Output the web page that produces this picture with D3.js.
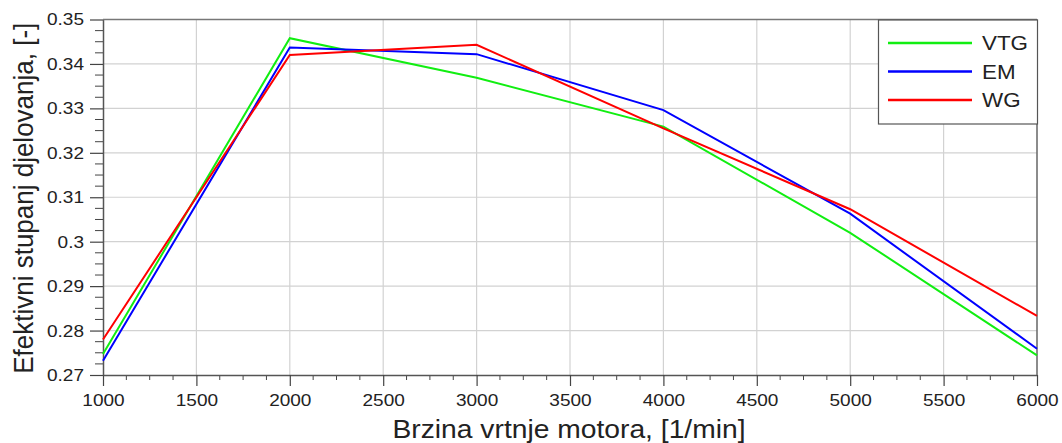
<!DOCTYPE html>
<html><head><meta charset="utf-8">
<script src="https://cdn.jsdelivr.net/npm/d3@7"></script>
<style>body{margin:0;background:#fff}svg{display:block}text{font-family:"Liberation Sans",Arial,sans-serif;fill:#222}</style>
</head><body><svg id="c" width="1062" height="443"></svg>
<script>
const rpm = [1000, 2000, 3000, 4000, 5000, 6000];
const vtg = [0.2747, 0.3458, 0.3369, 0.3259, 0.3020, 0.2744];
const em  = [0.2732, 0.3437, 0.3422, 0.3296, 0.3063, 0.2759];
const wg  = [0.2780, 0.3420, 0.3443, 0.3255, 0.3073, 0.2833];
const seriesNames = ["VTG", "EM", "WG"];
const seriesColors = ["#11ee11", "#0000ff", "#ff0000"];
const xTicks = [1000,1500,2000,2500,3000,3500,4000,4500,5000,5500,6000];
const yTicks = [0.27,0.28,0.29,0.30,0.31,0.32,0.33,0.34,0.35];
const yTickLabels = ["0.27","0.28","0.29","0.3","0.31","0.32","0.33","0.34","0.35"];
const xTitle = "Brzina vrtnje motora, [1/min]";
const yTitle = "Efektivni stupanj djelovanja, [-]";

const svg = d3.select("#c");
const L = 103, R = 1037, T = 19.5, B = 375;
const SX = 1.12;
const x = d3.scaleLinear().domain([1000, 6000]).range([L, R]);
const y = d3.scaleLinear().domain([0.27, 0.35]).range([B, T]);

// grid
const g = svg.append("g");
g.selectAll(".vx").data(xTicks.slice(1, -1)).join("line")
  .attr("x1", d => x(d)).attr("x2", d => x(d)).attr("y1", T).attr("y2", B)
  .attr("stroke", "#d2d2d2").attr("stroke-width", 1.2);
g.selectAll(".hy").data(yTicks.slice(1, -1)).join("line")
  .attr("x1", L).attr("x2", R).attr("y1", d => y(d)).attr("y2", d => y(d))
  .attr("stroke", "#d2d2d2").attr("stroke-width", 1.2);

// minor ticks
const xMinor = d3.range(1000, 6001, 125).filter(v => v % 500 !== 0);
const yMinor = d3.range(0, 33).map(i => 0.27 + i * 0.0025).filter((v, i) => i % 4 !== 0);
svg.append("g").selectAll("line").data(xMinor).join("line")
  .attr("x1", d => x(d)).attr("x2", d => x(d)).attr("y1", B).attr("y2", B + 5)
  .attr("stroke", "#444").attr("stroke-width", 1);
svg.append("g").selectAll("line").data(yMinor).join("line")
  .attr("x1", L - 8).attr("x2", L).attr("y1", d => y(d)).attr("y2", d => y(d))
  .attr("stroke", "#444").attr("stroke-width", 1);

// axes
const xAxis = d3.axisBottom(x).tickValues(xTicks).tickFormat(d3.format("d")).tickSizeInner(11).tickSizeOuter(0).tickPadding(8);
const ya = d3.axisLeft(y).tickValues(yTicks).tickFormat((d, i) => yTickLabels[i]).tickSizeInner(13).tickSizeOuter(0).tickPadding(6);
const gx = svg.append("g").attr("transform", `translate(0,${B})`).call(xAxis);
const gy = svg.append("g").attr("transform", `translate(${L},0)`).call(ya);
[gx, gy].forEach(a => {
  a.selectAll("path").attr("stroke", "#555").attr("stroke-width", 1.5);
  a.selectAll(".tick line").attr("stroke", "#444").attr("stroke-width", 1.2);
  a.selectAll("text").attr("font-size", 17).attr("fill", "#222").attr("font-family", "Liberation Sans, Arial, sans-serif");
});
gx.selectAll("text").attr("transform", `scale(${SX},1)`);
gy.selectAll("text").attr("x", -19 / SX).attr("transform", `scale(${SX},1)`);

// frame top/right
svg.append("line").attr("x1", L).attr("x2", R).attr("y1", T).attr("y2", T).attr("stroke", "#777").attr("stroke-width", 1.5);
svg.append("line").attr("x1", R).attr("x2", R).attr("y1", T).attr("y2", B).attr("stroke", "#666").attr("stroke-width", 1.5);

// lines
const data = [vtg, em, wg];
const line = d3.line().x((d, i) => x(rpm[i])).y(d => y(d));
data.forEach((s, k) => {
  svg.append("path").datum(s).attr("d", line).attr("fill", "none")
    .attr("stroke", seriesColors[k]).attr("stroke-width", 2).attr("stroke-linejoin", "miter");
});

// legend
const lg = svg.append("g");
lg.append("rect").attr("x", 878.5).attr("y", 20).attr("width", 159).attr("height", 104)
  .attr("fill", "#fff").attr("stroke", "#555").attr("stroke-width", 1.2);
seriesNames.forEach((n, k) => {
  const yy = 43 + k * 28.5;
  lg.append("line").attr("x1", 888).attr("x2", 972).attr("y1", yy).attr("y2", yy)
    .attr("stroke", seriesColors[k]).attr("stroke-width", 2.5);
  lg.append("text").attr("transform", `translate(982,${yy + 7}) scale(${SX},1)`)
    .attr("font-size", 20).attr("fill", "#111").text(n);
});

// titles
svg.append("text").attr("transform", `translate(${(L + R) / 2 - 1},438) scale(1.13,1)`).attr("text-anchor", "middle")
  .attr("font-size", 25).attr("fill", "#111").text(xTitle);
svg.append("text").attr("transform", `translate(33,${(T + B) / 2 + 1}) rotate(-90) scale(1,1.08)`).attr("text-anchor", "middle")
  .attr("font-size", 26).attr("fill", "#111").text(yTitle);
</script></body></html>
